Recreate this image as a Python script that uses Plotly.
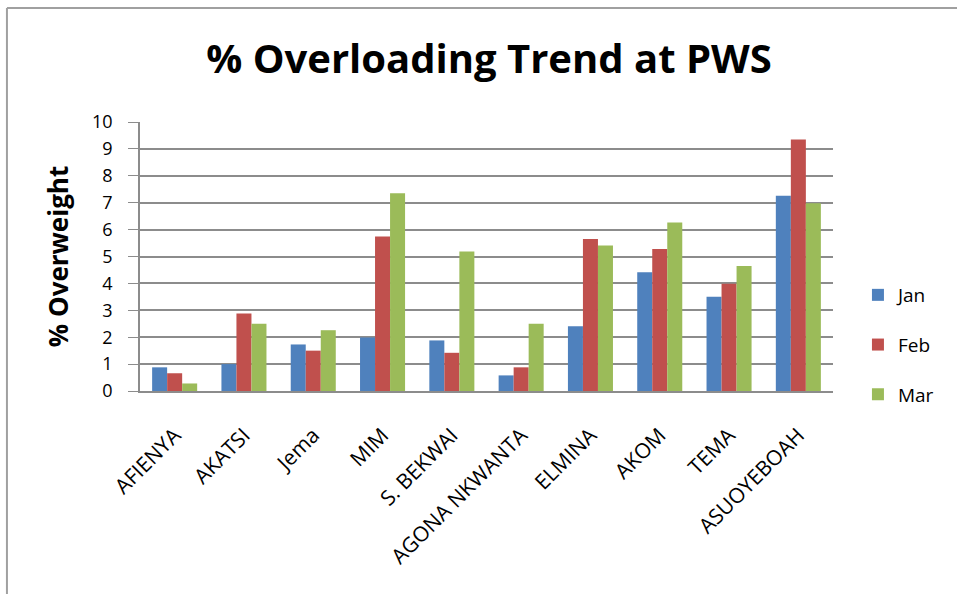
import plotly.graph_objects as go

stations = ["AFIENYA", "AKATSI", "Jema", "MIM", "S. BEKWAI", "AGONA NKWANTA",
            "ELMINA", "AKOM", "TEMA", "ASUOYEBOAH"]
jan = [0.88, 1.0, 1.73, 1.99, 1.88, 0.58, 2.41, 4.41, 3.5, 7.26]
feb = [0.66, 2.88, 1.5, 5.74, 1.42, 0.88, 5.65, 5.28, 3.99, 9.35]
mar = [0.28, 2.5, 2.26, 7.35, 5.19, 2.5, 5.41, 6.26, 4.65, 6.98]

months = ["Jan", "Feb", "Mar"]
colors = ["#4F81BD", "#C0504D", "#9BBB59"]
font = "Open Sans, sans-serif"
grey = "#8C8C8C"

fig = go.Figure()
for name, vals, col in zip(months, [jan, feb, mar], colors):
    fig.add_trace(go.Bar(x=stations, y=vals, name=name, legendgroup=name,
                         marker=dict(color=col, line=dict(width=0))))

fig.update_layout(
    width=957, height=594,
    margin=dict(l=140, r=124, t=122, b=203),
    paper_bgcolor="white", plot_bgcolor="white",
    bargap=0.35, bargroupgap=0,
    title=dict(text="<b>% Overloading Trend at PWS</b>", x=0.511, xanchor="center",
               y=0.9, yanchor="middle", font=dict(family=font, size=40, color="black")),
    legend=dict(x=1.036, y=0.171, xanchor="left", yanchor="middle",
                font=dict(family=font, size=19, color="black"),
                tracegroupgap=22, itemwidth=30),
    font=dict(family=font, color="black"),
    shapes=[
        dict(type="line", xref="paper", yref="paper", x0=-0.192, x1=1.2, y0=1.424, y1=1.424,
             line=dict(color="#A0A0A0", width=2)),
        dict(type="line", xref="paper", yref="paper", x0=-0.192, x1=-0.192, y0=1.424, y1=-0.76,
             line=dict(color="#A0A0A0", width=2)),
    ],
)
fig.update_yaxes(range=[0, 10], dtick=1, showgrid=True, gridcolor=grey, gridwidth=1.5,
                 showline=True, linecolor=grey, linewidth=1.5, automargin=False,
                 ticks="outside", ticklen=10, tickcolor=grey, ticklabelstandoff=12,
                 tickfont=dict(family=font, size=18, color="black"),
                 title=dict(text="<b>% Overweight</b>", standoff=16,
                            font=dict(family=font, size=26, color="black")))
fig.update_xaxes(showline=True, linecolor=grey, linewidth=1.5, tickangle=-45,
                 automargin=False, ticklabelstandoff=22,
                 tickfont=dict(family=font, size=21, color="black"))

fig.write_html("out.html", config={"displayModeBar": False},
               post_script="document.body.style.margin = '0';")
